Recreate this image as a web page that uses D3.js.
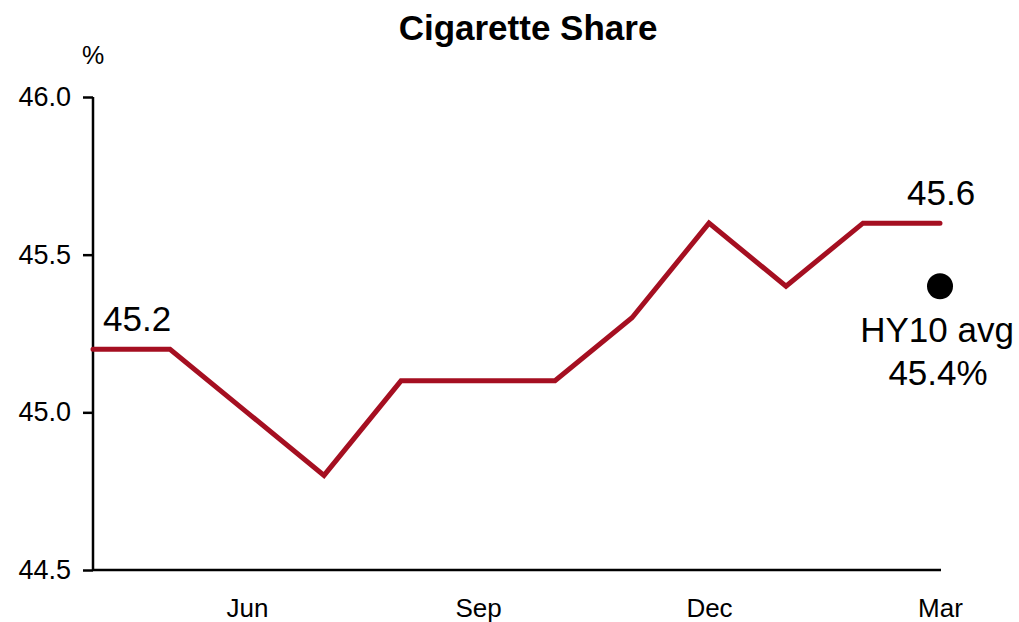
<!DOCTYPE html>
<html>
<head>
<meta charset="utf-8">
<script src="https://cdn.jsdelivr.net/npm/d3@7"></script>
<style>
  html, body { margin: 0; padding: 0; background: #fff; }
  svg { display: block; font-family: "Liberation Sans", Arial, sans-serif; }
</style>
</head>
<body>
<svg id="chart" width="1019" height="622"></svg>
<script>
// Monthly cigarette share, April through March
const months = ["Apr", "May", "Jun", "Jul", "Aug", "Sep", "Oct", "Nov", "Dec", "Jan", "Feb", "Mar"];
const share = [45.2, 45.2, 45.0, 44.8, 45.1, 45.1, 45.1, 45.3, 45.6, 45.4, 45.6, 45.6];
const labelledMonths = ["Jun", "Sep", "Dec", "Mar"];
const yTicks = [44.5, 45.0, 45.5, 46.0];
const halfYearAvg = 45.4;

const svg = d3.select("#chart");
const margin = { left: 93, right: 79, top: 97, bottom: 52 };
const W = 1019, H = 622;
const FONT = "Liberation Sans, Arial, sans-serif";

const x = d3.scalePoint().domain(months).range([margin.left, W - margin.right]);
const y = d3.scaleLinear().domain([44.5, 46.0]).range([H - margin.bottom, margin.top]);

// Title and unit
svg.append("text").attr("x", 528).attr("y", 40).attr("text-anchor", "middle")
  .attr("font-size", 35).attr("font-weight", "bold").text("Cigarette Share");
svg.append("text").attr("x", 93).attr("y", 64).attr("text-anchor", "middle")
  .attr("font-size", 25).text("%");

// Y axis
const yAxis = svg.append("g").attr("transform", `translate(${margin.left},0)`)
  .call(d3.axisLeft(y).tickValues(yTicks).tickFormat(d3.format(".1f")).tickSize(10).tickPadding(12));
yAxis.select(".domain").attr("stroke", "#000").attr("stroke-width", 2.5)
  .attr("d", `M0,${y(46.0)}V${y(44.5)}`);
yAxis.selectAll(".tick line").attr("stroke", "#000").attr("stroke-width", 2.5);
yAxis.selectAll(".tick text").attr("font-size", 27).attr("fill", "#000")
  .attr("font-family", FONT);

// X axis: baseline without ticks
const xAxis = svg.append("g").attr("transform", `translate(0,${y(44.5)})`)
  .call(d3.axisBottom(x).tickValues(labelledMonths).tickSize(0).tickPadding(29));
xAxis.select(".domain").attr("stroke", "#000").attr("stroke-width", 2.5)
  .attr("d", `M${margin.left},0H${x("Mar") + 1}`);
xAxis.selectAll(".tick text").attr("font-size", 26).attr("fill", "#000")
  .attr("font-family", FONT);

// Share line
const line = d3.line().x((d, i) => x(months[i])).y(d => y(d));
svg.append("path").datum(share).attr("d", line)
  .attr("fill", "none").attr("stroke", "#a50f21").attr("stroke-width", 5)
  .attr("stroke-linejoin", "miter").attr("stroke-linecap", "round");

// End-point value labels
svg.append("text").attr("x", x(months[0]) + 10).attr("y", y(share[0]) - 18)
  .attr("font-size", 35).text(share[0].toFixed(1));
svg.append("text").attr("x", x(months[11]) - 33).attr("y", y(share[11]) - 18)
  .attr("font-size", 35).text(share[11].toFixed(1));

// Half-year average marker
svg.append("circle").attr("cx", x("Mar")).attr("cy", y(halfYearAvg)).attr("r", 13).attr("fill", "#000");
svg.append("text").attr("x", 937).attr("y", 342).attr("text-anchor", "middle")
  .attr("font-size", 35).text("HY10 avg");
svg.append("text").attr("x", 938).attr("y", 385).attr("text-anchor", "middle")
  .attr("font-size", 35).text(halfYearAvg.toFixed(1) + "%");
</script>
</body>
</html>
